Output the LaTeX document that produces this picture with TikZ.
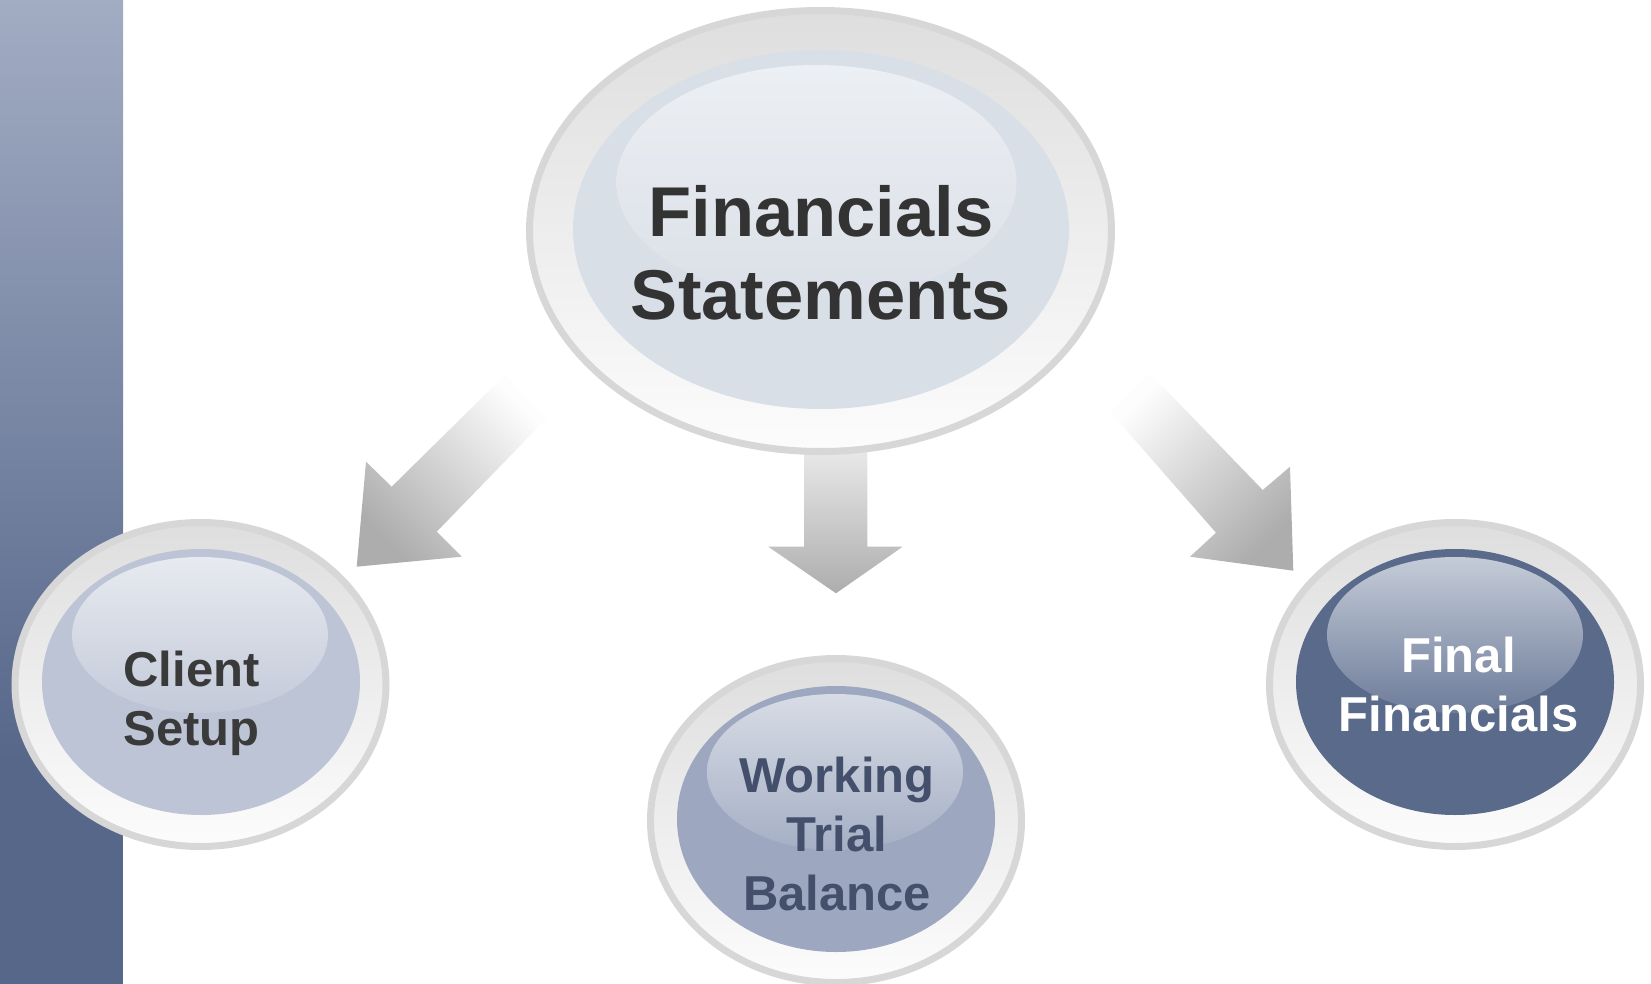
\documentclass[tikz,border=0pt]{standalone}
\usepackage{fontspec}
\setmainfont{Liberation Sans}
\usetikzlibrary{shapes.geometric}
\definecolor{barTop}{HTML}{A2ACC3}
\definecolor{barBot}{HTML}{56678A}
\definecolor{ringLine}{HTML}{D7D7D7}
\definecolor{ringTop}{HTML}{DEDEDE}
\definecolor{ringBot}{HTML}{FCFCFC}
\definecolor{arrTop}{HTML}{FDFDFD}
\definecolor{arrBot}{HTML}{ADADAD}
\definecolor{fsBase}{HTML}{D9DFE7}
\definecolor{fsGlowTop}{HTML}{ECEFF3}
\definecolor{fsGlowBot}{HTML}{DBE0E8}
\definecolor{csBase}{HTML}{BCC4D5}
\definecolor{csGlowTop}{HTML}{E7EAF0}
\definecolor{csGlowBot}{HTML}{C3CAD9}
\definecolor{wtBase}{HTML}{9DA8C0}
\definecolor{wtGlowTop}{HTML}{D7DCE5}
\definecolor{wtGlowBot}{HTML}{A5AFC5}
\definecolor{ffBase}{HTML}{596A8A}
\definecolor{ffGlowTop}{HTML}{C5CCD8}
\definecolor{ffGlowBot}{HTML}{6D7C9A}
\definecolor{txtDark}{HTML}{333333}
\definecolor{txtClient}{HTML}{3A3A3A}
\definecolor{txtWork}{HTML}{44506B}
\begin{document}
\begin{tikzpicture}[x=1pt,y=-1pt,
  ring/.style={ellipse, inner sep=0pt, outer sep=0pt, draw=ringLine, line width=7pt, top color=ringTop, bottom color=ringBot},
  bigring/.style={ring, minimum width=582pt, minimum height=441pt},
  smallring/.style={ring, minimum width=371pt, minimum height=324pt},
  core/.style={ellipse, inner sep=0pt, outer sep=0pt},
  bigcore/.style={core, minimum width=496pt, minimum height=359pt},
  smallcore/.style={core, minimum width=318pt, minimum height=266pt},
  bigglow/.style={core, minimum width=400pt, minimum height=235pt},
  smallglow/.style={core, minimum width=256pt, minimum height=156pt},
  label text/.style={align=center, inner sep=0pt},
  bigfont/.style={font=\bfseries\fontsize{70.5}{83.5}\selectfont},
  smallfont/.style={font=\bfseries\fontsize{49}{59}\selectfont},
  blockarrow/.style={top color=arrTop, bottom color=arrBot}
]
\useasboundingbox (0,0) rectangle (1651,984);
% left bar
\fill[barBot] (0,0) rectangle (123,984);
\shade[top color=barTop, bottom color=barBot] (0,0) rectangle (123,760);

% block arrows
\coordinate (la) at (356.7,566.7);
\coordinate (ma) at (836,593.3);
\coordinate (ra) at (1293.3,570.7);
\shade[blockarrow, shading angle=-45]
  (505,375) -- (391.7,486.7) -- (366,461.7) -- (la) -- (461.7,556.7) -- (436.7,531.7) -- (546.7,418.3) -- cycle;
\shade[blockarrow]
  (804,400) -- (804,546.7) -- (768.3,546.7) -- (ma) -- (902.7,546.7) -- (867.3,546.7) -- (867.3,400) -- cycle;
\shade[blockarrow, shading angle=45]
  (1150,373.3) -- (1262.7,490) -- (1290,466.7) -- (ra) -- (1190,556.7) -- (1216,532.7) -- (1110,411.7) -- cycle;

% Financials Statements
\node[bigring] (fsRing) at (820.5,231) {};
\node[bigcore, fill=fsBase] (fsCore) at (821,229.5) {};
\node[bigglow, top color=fsGlowTop, bottom color=fsGlowBot] (fsGlow) at (816.5,182.5) {};
\node[label text, bigfont, text=txtDark] (fs) at (821,253) {Financials\\Statements};

% Client Setup
\node[smallring] (csRing) at (200.5,684.5) {};
\node[smallcore, fill=csBase] (csCore) at (201,682) {};
\node[smallglow, top color=csGlowTop, bottom color=csGlowBot] (csGlow) at (200,635) {};
\node[label text, smallfont, text=txtClient] (cs) at (191.5,703.6) {Client\\Setup};

% Working Trial Balance
\node[smallring] (wtRing) at (836,820.5) {};
\node[smallcore, fill=wtBase] (wtCore) at (836,819) {};
\node[smallglow, top color=wtGlowTop, bottom color=wtGlowBot] (wtGlow) at (835,772) {};
\node[label text, smallfont, text=txtWork] (wt) at (837,833.7) {Working\\Trial\\Balance};

% Final Financials
\node[smallring] (ffRing) at (1455,684.5) {};
\node[smallcore, fill=ffBase] (ffCore) at (1455,682) {};
\node[smallglow, top color=ffGlowTop, bottom color=ffGlowBot] (ffGlow) at (1455,635) {};
\node[label text, smallfont, text=white] (ff) at (1458.5,684.2) {Final\\Financials};
\end{tikzpicture}
\end{document}
